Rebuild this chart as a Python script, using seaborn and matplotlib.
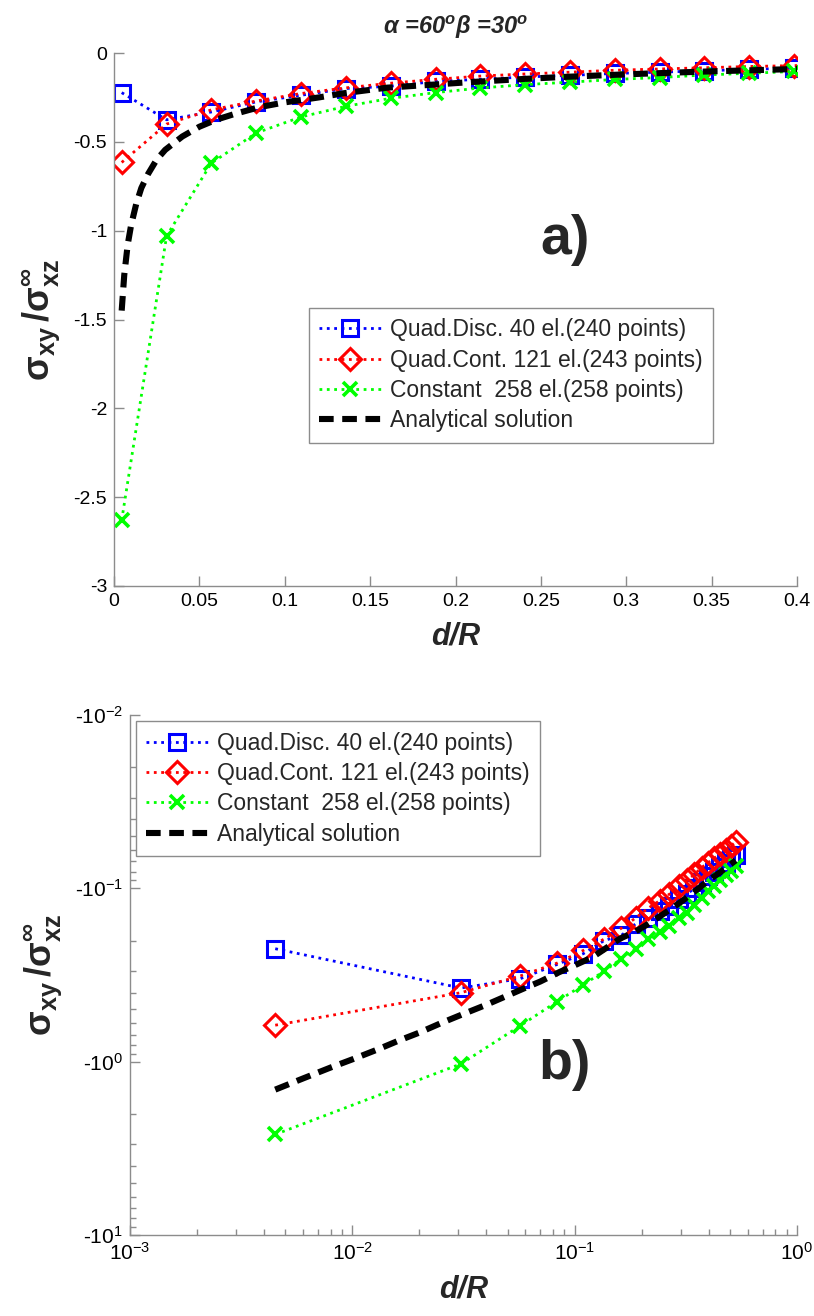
import numpy as np
import pandas as pd
import matplotlib
matplotlib.use("Agg")
import matplotlib.pyplot as plt
import seaborn as sns
from matplotlib.ticker import FixedLocator, FixedFormatter, LogLocator, NullFormatter

# ---------------- data ----------------
d_values = [0.0045, 0.0308, 0.0570, 0.0833, 0.1095, 0.1358, 0.1620, 0.1883, 0.2145, 0.2408,
            0.2670, 0.2933, 0.3195, 0.3458, 0.3720, 0.3983, 0.4245, 0.4508, 0.4770, 0.5033, 0.5295]
quad_disc = [-0.223, -0.376, -0.332, -0.275, -0.238, -0.200, -0.187, -0.160, -0.148, -0.135,
             -0.126, -0.115, -0.108, -0.100, -0.092, -0.085, -0.080, -0.075, -0.071, -0.067, -0.064]
quad_cont = [-0.616, -0.400, -0.320, -0.270, -0.228, -0.196, -0.170, -0.148, -0.130, -0.118,
             -0.108, -0.097, -0.090, -0.083, -0.076, -0.071, -0.067, -0.063, -0.060, -0.057, -0.054]
constant = [-2.63, -1.03, -0.62, -0.45, -0.36, -0.30, -0.255, -0.223, -0.197, -0.178,
            -0.164, -0.149, -0.138, -0.124, -0.114, -0.104, -0.097, -0.090, -0.084, -0.079, -0.074]
analytic_d = [0.0045, 0.006, 0.008, 0.010, 0.013, 0.016, 0.020, 0.025, 0.030, 0.040, 0.050,
              0.060, 0.070, 0.085, 0.100, 0.120, 0.135, 0.160, 0.187, 0.210, 0.240, 0.265,
              0.300, 0.344, 0.400, 0.450, 0.500, 0.530]
analytic_v = [-1.45, -1.25, -1.08, -0.97, -0.85, -0.76, -0.68, -0.60, -0.545, -0.47, -0.415,
              -0.375, -0.345, -0.305, -0.278, -0.250, -0.226, -0.195, -0.178, -0.163, -0.146, -0.134,
              -0.120, -0.105, -0.090, -0.081, -0.073, -0.069]

labels = ["Quad.Disc. 40 el.(240 points)", "Quad.Cont. 121 el.(243 points)",
          "Constant  258 el.(258 points)", "Analytical solution"]
title_text = r"$\alpha$ =60$^{o}$$\beta$ =30$^{o}$"
x_ticks_a = [0, 0.05, 0.1, 0.15, 0.2, 0.25, 0.3, 0.35, 0.4]
x_tick_labels_a = ["0", "0.05", "0.1", "0.15", "0.2", "0.25", "0.3", "0.35", "0.4"]
y_ticks_a = [-3, -2.5, -2, -1.5, -1, -0.5, 0]
y_tick_labels_a = ["-3", "-2.5", "-2", "-1.5", "-1", "-0.5", "0"]
x_ticks_b = [1e-3, 1e-2, 1e-1, 1e0]
x_tick_labels_b = [r"$\mathregular{10^{-3}}$", r"$\mathregular{10^{-2}}$",
                   r"$\mathregular{10^{-1}}$", r"$\mathregular{10^{0}}$"]
y_ticks_b = [1e-2, 1e-1, 1e0, 1e1]
y_tick_labels_b = [r"-$\mathregular{10^{-2}}$", r"-$\mathregular{10^{-1}}$",
                   r"-$\mathregular{10^{0}}$", r"-$\mathregular{10^{1}}$"]

# ---------------- style ----------------
sns.set_theme(style="white")
plt.rcParams["font.family"] = ["Liberation Sans", "DejaVu Sans"]
plt.rcParams["mathtext.fontset"] = "custom"
plt.rcParams["mathtext.rm"] = "Liberation Sans"
plt.rcParams["mathtext.it"] = "Liberation Sans:italic:bold"
plt.rcParams["mathtext.bf"] = "Liberation Sans:bold"
plt.rcParams["axes.unicode_minus"] = False

GRAY = "#8c8c8c"
fig = plt.figure(figsize=(8.14, 13.16), dpi=100)
ax1 = fig.add_axes([114 / 814, 1 - 586 / 1316, 683 / 814, 533 / 1316])
ax2 = fig.add_axes([130 / 814, 1 - 1235 / 1316, 667 / 814, 520 / 1316])

df = pd.DataFrame({"d": d_values, "disc": quad_disc, "cont": quad_cont, "const": constant})
dfa = pd.DataFrame({"d": analytic_d, "v": analytic_v})

styles = [
    dict(col="disc", color="#0000ff", marker="s", markersize=11.5, markeredgewidth=2.2),
    dict(col="cont", color="#ff0000", marker="D", markersize=11, markeredgewidth=2.2),
    dict(col="const", color="#00ff00", marker="x", markersize=10.5, markeredgewidth=2.6),
]


def draw(ax, logy):
    for st, lab in zip(styles, labels[:3]):
        y = df[st["col"]].abs() if logy else df[st["col"]]
        mfc = "none" if st["marker"] != "x" else st["color"]
        sns.lineplot(x=df["d"], y=y, ax=ax, color=st["color"], linestyle=":", linewidth=2.0,
                     marker=st["marker"], markersize=st["markersize"],
                     markerfacecolor=mfc, markeredgecolor=st["color"],
                     markeredgewidth=st["markeredgewidth"], label=lab,
                     sort=False, estimator=None, legend=False)
    ya = dfa["v"].abs() if logy else dfa["v"]
    sns.lineplot(x=dfa["d"], y=ya, ax=ax, color="black", linewidth=4.4,
                 linestyle=(0, (2.4, 1.4)), label=labels[3], sort=False,
                 estimator=None, legend=False)


def style_axes(ax):
    for s in ["top", "right"]:
        ax.spines[s].set_visible(False)
    for s in ["left", "bottom"]:
        ax.spines[s].set_color(GRAY)
        ax.spines[s].set_linewidth(1.0)
    ax.tick_params(which="major", direction="in", length=7, width=1, color=GRAY,
                   labelsize=14, labelcolor="black", pad=5, left=True, bottom=True)
    ax.tick_params(which="minor", direction="in", length=4, width=1, color=GRAY,
                   left=True, bottom=True)
    ax.set_xlabel("d/R", fontsize=22, fontweight="bold", fontstyle="italic", labelpad=8)
    ax.set_ylabel(r"$\mathbf{\sigma_{xy}\,/\sigma^{\infty}_{xz}}$", fontsize=26,
                  labelpad=8)
    ax.grid(False)


# ---------------- panel a ----------------
draw(ax1, False)
ax1.set_xlim(0, 0.4)
ax1.set_ylim(-3, 0)
ax1.xaxis.set_major_locator(FixedLocator(x_ticks_a))
ax1.xaxis.set_major_formatter(FixedFormatter(x_tick_labels_a))
ax1.yaxis.set_major_locator(FixedLocator(y_ticks_a))
ax1.yaxis.set_major_formatter(FixedFormatter(y_tick_labels_a))
style_axes(ax1)
ax1.set_title(title_text, fontsize=17, fontweight="bold", fontstyle="italic", pad=14)
ax1.text(0.66, 0.649, "a)", transform=ax1.transAxes, fontsize=40, fontweight="bold",
         ha="center", va="center")
leg_kw = dict(loc="upper left", fontsize=16.5, handlelength=2.7, handletextpad=0.4,
              labelspacing=0.32, borderpad=0.45, borderaxespad=0, fancybox=False,
              framealpha=1, edgecolor=GRAY, numpoints=1)
h, l = ax1.get_legend_handles_labels()
lg1 = ax1.legend(h, l, bbox_to_anchor=(0.2855, 0.5216), **leg_kw)
lg1.get_frame().set_linewidth(1.0)

# ---------------- panel b ----------------
draw(ax2, True)
ax2.set_xscale("log")
ax2.set_yscale("log")
ax2.set_xlim(1e-3, 1)
ax2.set_ylim(10, 1e-2)
ax2.xaxis.set_major_locator(FixedLocator(x_ticks_b))
ax2.xaxis.set_major_formatter(FixedFormatter(x_tick_labels_b))
ax2.yaxis.set_major_locator(FixedLocator(y_ticks_b))
ax2.yaxis.set_major_formatter(FixedFormatter(y_tick_labels_b))
ax2.xaxis.set_minor_locator(LogLocator(base=10, subs=np.arange(2, 10)))
ax2.yaxis.set_minor_locator(LogLocator(base=10, subs=np.arange(2, 10)))
ax2.xaxis.set_minor_formatter(NullFormatter())
ax2.yaxis.set_minor_formatter(NullFormatter())
style_axes(ax2)
ax2.tick_params(axis="both", which="major", labelsize=15)
ax2.text(0.652, 0.327, "b)", transform=ax2.transAxes, fontsize=40, fontweight="bold",
         ha="center", va="center")
h, l = ax2.get_legend_handles_labels()
lg2 = ax2.legend(h, l, bbox_to_anchor=(0.009, 0.988), **leg_kw)
lg2.get_frame().set_linewidth(1.0)

fig.savefig("out.png", dpi=100)
